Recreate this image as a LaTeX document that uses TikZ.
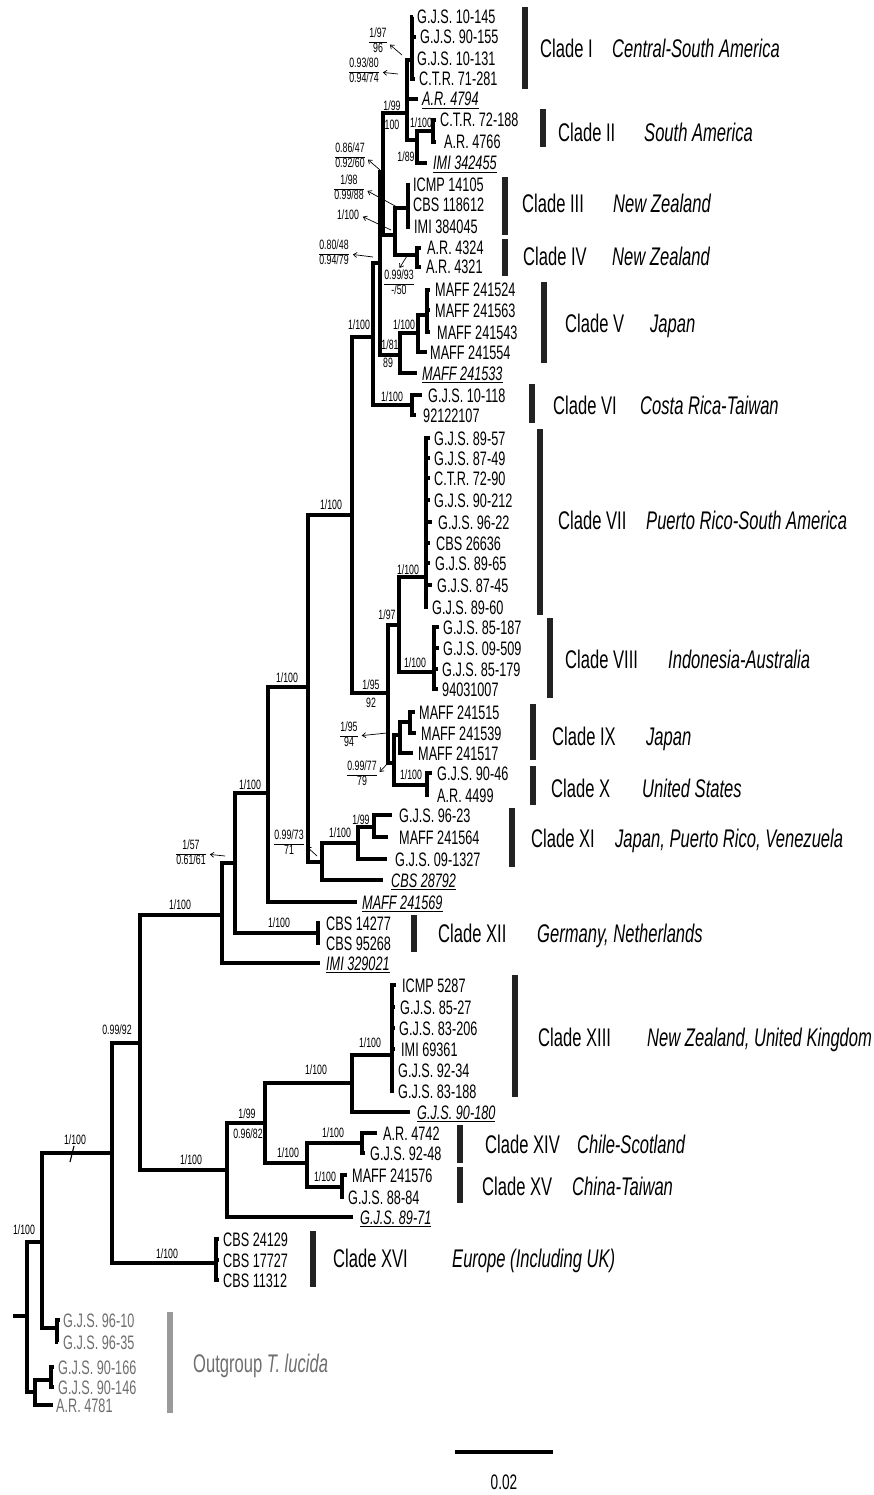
\documentclass[tikz,border=0pt]{standalone}
\usepackage{fontspec}
\setmainfont[FakeStretch=0.65]{Liberation Sans}
\usepackage{tikz}
\usetikzlibrary{arrows.meta}
\definecolor{ogtext}{HTML}{6E6E6E}
\definecolor{ogbar}{HTML}{9A9A9A}
\definecolor{barcol}{HTML}{222222}
\setlength{\arrayrulewidth}{0.9pt}
\newcommand{\leaffont}{\fontsize{19.5}{21}\selectfont}
\newcommand{\suppfont}{\fontsize{13.5}{14.5}\selectfont}
\newcommand{\cladefont}{\fontsize{25.5}{27}\selectfont}
\newcommand{\ulname}[1]{\setbox0\hbox{#1}\rlap{\rule[-2.6pt]{\wd0}{1pt}}\box0}
\newcommand{\sfr}[2]{\begin{tabular}{@{}c@{}}#1\\\hline #2\end{tabular}}

\begin{document}
\begin{tikzpicture}[x=1pt, y=-1pt,
    branch/.style={line width=3.8pt},
    leaf/.style={anchor=west, inner xsep=#1, inner ysep=0pt, text height=14pt, text depth=0pt, font=\leaffont},
    leaf/.default=4pt,
    leafu/.style={leaf=#1, font=\leaffont\itshape},
    leafu/.default=4pt,
    leafg/.style={leaf=#1, text=ogtext},
    leafg/.default=4pt,
    supp/.style={inner sep=0pt, text height=9.7pt, text depth=0pt, font=\suppfont},
    suppf/.style={inner sep=0pt, font=\suppfont},
    ptr/.style={-{Straight Barb[length=3.5pt, width=5pt]}, line width=0.7pt, shorten >=4pt},
    cbar/.style={line width=6pt, barcol},
    clade/.style={anchor=west, inner sep=0pt, text height=18.3pt, text depth=0pt, font=\cladefont},
    region/.style={clade, font=\cladefont\itshape}]
    \useasboundingbox (0,0) rectangle (874,1495);

    % internal nodes (x of vertical, y of stem)
    \coordinate (stub) at (13,1316);
    \coordinate (root) at (27,1316);
    \coordinate (og1) at (35,1392);
    \coordinate (og2) at (51,1380);
    \coordinate (og3) at (57,1328);
    \coordinate (ing) at (42,1242);
    \coordinate (a1) at (112,1153);
    \coordinate (cXVI) at (216,1263);
    \coordinate (a2) at (140,1043);
    \coordinate (b1) at (227,1170);
    \coordinate (b2) at (265,1123);
    \coordinate (b3) at (352,1083);
    \coordinate (cXIII) at (392,1055);
    \coordinate (b4) at (307,1163);
    \coordinate (cXIV) at (362,1143);
    \coordinate (cXV) at (342,1187);
    \coordinate (a3) at (222,915);
    \coordinate (a4) at (235,863);
    \coordinate (cXII) at (318,933);
    \coordinate (a5) at (268,793);
    \coordinate (a6) at (308,687);
    \coordinate (d1) at (322,862);
    \coordinate (cXI) at (358,843);
    \coordinate (cXIa) at (374,827);
    \coordinate (a7) at (352,515);
    \coordinate (e1) at (388,693);
    \coordinate (e2) at (399,625);
    \coordinate (cVII) at (426,577);
    \coordinate (cVIII) at (434,672);
    \coordinate (e3) at (394,763);
    \coordinate (cIX) at (400,735);
    \coordinate (cIXa) at (410,722);
    \coordinate (cX) at (427,785);
    \coordinate (a8) at (373,337);
    \coordinate (cVI) at (412,405);
    \coordinate (a9) at (380,263);
    \coordinate (cV) at (400,355);
    \coordinate (cVa) at (418,333);
    \coordinate (cVb) at (427,315);
    \coordinate (a10) at (383,172);
    \coordinate (f2) at (395,235);
    \coordinate (cIII) at (408,208);
    \coordinate (cIV) at (417,255);
    \coordinate (f1) at (407,113);
    \coordinate (cI) at (412,60);
    \coordinate (f3) at (417,140);
    \coordinate (cII) at (433,131);

    % leaves
    \node[leaf] (gjs10145) at (413,17) {G.J.S. 10-145};
    \node[leaf] (gjs90155) at (416,37) {G.J.S. 90-155};
    \node[leaf] (gjs10131) at (413,59) {G.J.S. 10-131};
    \node[leaf] (ctr71281) at (415,79) {C.T.R. 71-281};
    \node[leafu] (ar4794) at (418,99) {\ulname{A.R. 4794}};
    \node[leaf] (ctr72188) at (436,120) {C.T.R. 72-188};
    \node[leaf=8pt] (ar4766) at (436,142) {A.R. 4766};
    \node[leafu=6pt] (imi342455) at (427,163) {\ulname{IMI 342455}};
    \node[leaf=3pt] (icmp14105) at (410,185) {ICMP 14105};
    \node[leaf=3pt] (cbs118612) at (410,205) {CBS 118612};
    \node[leaf] (imi384045) at (410,227) {IMI 384045};
    \node[leaf=6pt] (ar4324) at (421,248) {A.R. 4324};
    \node[leaf=5pt] (ar4321) at (421,267) {A.R. 4321};
    \node[leaf=5pt] (maff241524) at (430,290) {MAFF 241524};
    \node[leaf=5pt] (maff241563) at (430,310) {MAFF 241563};
    \node[leaf=7pt] (maff241543) at (430,332) {MAFF 241543};
    \node[leaf=3pt] (maff241554) at (427,352) {MAFF 241554};
    \node[leafu=5pt] (maff241533) at (417,373) {\ulname{MAFF 241533}};
    \node[leaf=6pt] (gjs10118) at (422,395) {G.J.S. 10-118};
    \node[leaf=7pt] (n92122107) at (416,415) {92122107};
    \node[leaf] (gjs8957) at (430,438) {G.J.S. 89-57};
    \node[leaf] (gjs8749) at (430,458) {G.J.S. 87-49};
    \node[leaf] (ctr7290) at (430,478) {C.T.R. 72-90};
    \node[leaf] (gjs90212) at (430,500) {G.J.S. 90-212};
    \node[leaf=6pt] (gjs9622) at (432,522) {G.J.S. 96-22};
    \node[leaf=6pt] (cbs26636) at (430,543) {CBS 26636};
    \node[leaf=5pt] (gjs8965) at (430,563) {G.J.S. 89-65};
    \node[leaf=5pt] (gjs8745) at (432,585) {G.J.S. 87-45};
    \node[leaf] (gjs8960) at (428,607) {G.J.S. 89-60};
    \node[leaf] (gjs85187) at (439,627) {G.J.S. 85-187};
    \node[leaf] (gjs09509) at (439,648) {G.J.S. 09-509};
    \node[leaf] (gjs85179) at (438,669) {G.J.S. 85-179};
    \node[leaf] (n94031007) at (438,689) {94031007};
    \node[leaf] (maff241515) at (415,712) {MAFF 241515};
    \node[leaf=5pt] (maff241539) at (416,733) {MAFF 241539};
    \node[leaf=5pt] (maff241517) at (413,753) {MAFF 241517};
    \node[leaf=5pt] (gjs9046) at (432,773) {G.J.S. 90-46};
    \node[leaf=8pt] (ar4499) at (429,795) {A.R. 4499};
    \node[leaf=7pt] (gjs9623) at (392,815) {G.J.S. 96-23};
    \node[leaf=11pt] (maff241564) at (388,837) {MAFF 241564};
    \node[leaf=8pt] (gjs091327) at (387,859) {G.J.S. 09-1327};
    \node[leafu=8pt] (cbs28792) at (383,880) {\ulname{CBS 28792}};
    \node[leafu=5pt] (maff241569) at (357,902) {\ulname{MAFF 241569}};
    \node[leaf=6pt] (cbs14277) at (320,923) {CBS 14277};
    \node[leaf=6pt] (cbs95268) at (320,943) {CBS 95268};
    \node[leafu=6pt] (imi329021) at (320,963) {\ulname{IMI 329021}};
    \node[leaf=6pt] (icmp5287) at (396,985) {ICMP 5287};
    \node[leaf=5pt] (gjs8527) at (395,1007) {G.J.S. 85-27};
    \node[leaf] (gjs83206) at (395,1028) {G.J.S. 83-206};
    \node[leaf=6pt] (imi69361) at (395,1049) {IMI 69361};
    \node[leaf] (gjs9234) at (394,1070) {G.J.S. 92-34};
    \node[leaf] (gjs83188) at (394,1091) {G.J.S. 83-188};
    \node[leafu=7pt] (gjs90180) at (410,1112) {\ulname{G.J.S. 90-180}};
    \node[leaf=6pt] (ar4742) at (377,1133) {A.R. 4742};
    \node[leaf=5pt] (gjs9248) at (365,1153) {G.J.S. 92-48};
    \node[leaf=5pt] (maff241576) at (347,1175) {MAFF 241576};
    \node[leaf] (gjs8884) at (344,1197) {G.J.S. 88-84};
    \node[leafu=7pt] (gjs8971) at (353,1217) {\ulname{G.J.S. 89-71}};
    \node[leaf] (cbs24129) at (219,1239) {CBS 24129};
    \node[leaf] (cbs17727) at (219,1260) {CBS 17727};
    \node[leaf] (cbs11312) at (219,1280) {CBS 11312};
    \node[leafg=3pt] (gjs9610) at (60,1320) {G.J.S. 96-10};
    \node[leafg=5pt] (gjs9635) at (58,1342) {G.J.S. 96-35};
    \node[leafg] (gjs90166) at (54,1367) {G.J.S. 90-166};
    \node[leafg] (gjs90146) at (54,1387) {G.J.S. 90-146};
    \node[leafg=3pt] (ar4781) at (53,1405) {A.R. 4781};

    % branches
    \draw[branch] (stub) -- (root);
    \draw[branch] (root) |- (ing) (root) |- (og1);
    \draw[branch] (og1) |- (og2) (og1) |- (ar4781.west);
    \draw[branch] (og2) |- (gjs90166.west) (og2) |- (gjs90146.west);
    \draw[branch] (ing) |- (a1) (ing) |- (og3);
    \draw[branch] (og3) |- (gjs9610.west) (og3) |- (gjs9635.west);
    \draw[branch] (a1) |- (a2) (a1) |- (cXVI);
    \draw[branch] (cXVI) |- (cbs24129.west) (cXVI) |- (cbs17727.west) (cXVI) |- (cbs11312.west);
    \draw[branch] (a2) |- (a3) (a2) |- (b1);
    \draw[branch] (b1) |- (b2) (b1) |- (gjs8971.west);
    \draw[branch] (b2) |- (b3) (b2) |- (b4);
    \draw[branch] (b3) |- (cXIII) (b3) |- (gjs90180.west);
    \draw[branch] (cXIII) |- (icmp5287.west) (cXIII) |- (gjs8527.west) (cXIII) |- (gjs83206.west)
        (cXIII) |- (imi69361.west) (cXIII) |- (gjs9234.west) (cXIII) |- (gjs83188.west);
    \draw[branch] (b4) |- (cXIV) (b4) |- (cXV);
    \draw[branch] (cXIV) |- (ar4742.west) (cXIV) |- (gjs9248.west);
    \draw[branch] (cXV) |- (maff241576.west) (cXV) |- (gjs8884.west);
    \draw[branch] (a3) |- (a4) (a3) |- (imi329021.west);
    \draw[branch] (a4) |- (a5) (a4) |- (cXII);
    \draw[branch] (cXII) |- (cbs14277.west) (cXII) |- (cbs95268.west);
    \draw[branch] (a5) |- (a6) (a5) |- (maff241569.west);
    \draw[branch] (a6) |- (a7) (a6) |- (d1);
    \draw[branch] (d1) |- (cXI) (d1) |- (cbs28792.west);
    \draw[branch] (cXI) |- (cXIa) (cXI) |- (gjs091327.west);
    \draw[branch] (cXIa) |- (gjs9623.west) (cXIa) |- (maff241564.west);
    \draw[branch] (a7) |- (a8) (a7) |- (e1);
    \draw[branch] (e1) |- (e2) (e1) |- (e3);
    \draw[branch] (e2) |- (cVII) (e2) |- (cVIII);
    \draw[branch] (cVII) |- (gjs8957.west) (cVII) |- (gjs8749.west) (cVII) |- (ctr7290.west)
        (cVII) |- (gjs90212.west) (cVII) |- (gjs9622.west) (cVII) |- (cbs26636.west)
        (cVII) |- (gjs8965.west) (cVII) |- (gjs8745.west) (cVII) |- (gjs8960.west);
    \draw[branch] (cVIII) |- (gjs85187.west) (cVIII) |- (gjs09509.west) (cVIII) |- (gjs85179.west)
        (cVIII) |- (n94031007.west);
    \draw[branch] (e3) |- (cIX) (e3) |- (cX);
    \draw[branch] (cIX) |- (cIXa) (cIX) |- (maff241517.west);
    \draw[branch] (cIXa) |- (maff241515.west) (cIXa) |- (maff241539.west);
    \draw[branch] (cX) |- (gjs9046.west) (cX) |- (ar4499.west);
    \draw[branch] (a8) |- (a9) (a8) |- (cVI);
    \draw[branch] (cVI) |- (gjs10118.west) (cVI) |- (n92122107.west);
    \draw[branch] (a9) |- (a10) (a9) |- (cV);
    \draw[branch] (cV) |- (cVa) (cV) |- (maff241533.west);
    \draw[branch] (cVa) |- (cVb) (cVa) |- (maff241554.west);
    \draw[branch] (cVb) |- (maff241524.west) (cVb) |- (maff241563.west) (cVb) |- (maff241543.west);
    \draw[branch] (a10) |- (f1) (a10) |- (f2);
    \draw[branch] (f2) |- (cIII) (f2) |- (cIV);
    \draw[branch] (cIII) |- (icmp14105.west) (cIII) |- (cbs118612.west) (cIII) |- (imi384045.west);
    \draw[branch] (cIV) |- (ar4324.west) (cIV) |- (ar4321.west);
    \draw[branch] (f1) |- (cI) (f1) |- (ar4794.west) (f1) |- (f3);
    \draw[branch] (cI) |- (gjs10145.west) (cI) |- (gjs90155.west) (cI) |- (gjs10131.west)
        (cI) |- (ctr71281.west);
    \draw[branch] (f3) |- (cII) (f3) |- (imi342455.west);
    \draw[branch] (cII) |- (ctr72188.west) (cII) |- (ar4766.west);
    % long-branch mark
    \draw[line width=1.2pt] (70,1162) -- (74,1146);

    % support values
    \node[supp] (s1) at (392,106) {1/99};
    \node[supp] (s2) at (392,125) {100};
    \node[supp] (s3) at (421,123) {1/100};
    \node[supp] (s4) at (406,157) {1/89};
    \node[supp] (s5) at (348,215) {1/100};
    \node[supp] (s6) at (359,325) {1/100};
    \node[supp] (s7) at (404,325) {1/100};
    \node[supp] (s8) at (390,345) {1/81};
    \node[supp] (s9) at (388,363) {89};
    \node[supp] (s10) at (392,397) {1/100};
    \node[supp] (s11) at (331,505) {1/100};
    \node[supp] (s12) at (408,570) {1/100};
    \node[supp] (s13) at (387,615) {1/97};
    \node[supp] (s14) at (415,663) {1/100};
    \node[supp] (s15) at (287,678) {1/100};
    \node[supp] (s16) at (371,685) {1/95};
    \node[supp] (s17) at (371,703) {92};
    \node[supp] (s18) at (411,775) {1/100};
    \node[supp] (s19) at (250,785) {1/100};
    \node[supp] (s20) at (361,820) {1/99};
    \node[supp] (s21) at (340,833) {1/100};
    \node[supp] (s22) at (180,905) {1/100};
    \node[supp] (s23) at (279,923) {1/100};
    \node[supp] (s24) at (117,1030) {0.99/92};
    \node[supp] (s25) at (370,1043) {1/100};
    \node[supp] (s26) at (316,1070) {1/100};
    \node[supp] (s27) at (247,1114) {1/99};
    \node[supp] (s28) at (248,1134) {0.96/82};
    \node[supp] (s29) at (333,1133) {1/100};
    \node[supp] (s30) at (288,1153) {1/100};
    \node[supp] (s31) at (191,1160) {1/100};
    \node[supp] (s32) at (325,1177) {1/100};
    \node[supp] (s33) at (75,1140) {1/100};
    \node[supp] (s34) at (167,1254) {1/100};
    \node[supp] (s35) at (24,1230) {1/100};

    % stacked support values with pointers
    \node[suppf] (k1) at (378,42) {\sfr{1/97}{96}};
    \node[suppf] (k2) at (364,72) {\sfr{0.93/80}{0.94/74}};
    \node[suppf] (k3) at (350,157) {\sfr{0.86/47}{0.92/60}};
    \node[suppf] (k4) at (349,189) {\sfr{1/98}{0.99/88}};
    \node[suppf] (k5) at (334,254) {\sfr{0.80/48}{0.94/79}};
    \node[suppf] (k6) at (399,284) {\sfr{0.99/93}{-/50}};
    \node[suppf] (k7) at (349,736) {\sfr{1/95}{94}};
    \node[suppf] (k8) at (362,775) {\sfr{0.99/77}{79}};
    \node[suppf] (k9) at (191,854) {\sfr{1/57}{0.61/61}};
    \node[suppf] (k10) at (289,844) {\sfr{0.99/73}{71}};
    \coordinate (q1) at (402,55);
    \coordinate (q2) at (398,74);
    \coordinate (q3) at (380,170);
    \coordinate (q4) at (397,207);
    \coordinate (q5) at (391,230);
    \coordinate (q6) at (373,257);
    \coordinate (q7) at (407,256);
    \coordinate (q8) at (387,733);
    \coordinate (q9) at (388,763);
    \coordinate (q10) at (225,856);
    \coordinate (q11) at (317,856);
    \draw[ptr] (q1) -- (k1.east);
    \draw[ptr] (q2) -- (k2.east);
    \draw[ptr] (q3) -- (k3.east);
    \draw[ptr] (q4) -- (k4.east);
    \draw[ptr] (q5) -- (s5.east);
    \draw[ptr] (q6) -- (k5.east);
    \draw[ptr, shorten >=1pt] (q7) -- (k6.north);
    \draw[ptr] (q8) -- (k7.east);
    \draw[ptr] (q9) -- (k8.east);
    \draw[ptr] (q10) -- (k9.east);
    \draw[ptr] (q11) -- (k10.east);

    % clade bars and names
    \draw[cbar] (525,7) -- (525,89);
    \node[clade] (cladeI) at (540,48) {Clade I};
    \node[region] (regI) at (612,48) {Central-South America};
    \draw[cbar] (543,109) -- (543,147);
    \node[clade] (cladeII) at (558,132) {Clade II};
    \node[region] (regII) at (644,132) {South America};
    \draw[cbar] (505,177) -- (505,235);
    \node[clade] (cladeIII) at (522,203) {Clade III};
    \node[region] (regIII) at (613,203) {New Zealand};
    \draw[cbar] (505,239) -- (505,276);
    \node[clade] (cladeIV) at (523,256) {Clade IV};
    \node[region] (regIV) at (612,256) {New Zealand};
    \draw[cbar] (544,282) -- (544,363);
    \node[clade] (cladeV) at (565,323) {Clade V};
    \node[region] (regV) at (650,323) {Japan};
    \draw[cbar] (532,384) -- (532,423);
    \node[clade] (cladeVI) at (553,405) {Clade VI};
    \node[region] (regVI) at (640,405) {Costa Rica-Taiwan};
    \draw[cbar] (540,429) -- (540,615);
    \node[clade] (cladeVII) at (558,520) {Clade VII};
    \node[region] (regVII) at (646,520) {Puerto Rico-South America};
    \draw[cbar] (550,618) -- (550,698);
    \node[clade] (cladeVIII) at (565,659) {Clade VIII};
    \node[region] (regVIII) at (668,659) {Indonesia-Australia};
    \draw[cbar] (533,704) -- (533,760);
    \node[clade] (cladeIX) at (552,736) {Clade IX};
    \node[region] (regIX) at (646,736) {Japan};
    \draw[cbar] (533,766) -- (533,805);
    \node[clade] (cladeX) at (551,788) {Clade X};
    \node[region] (regX) at (642,788) {United States};
    \draw[cbar] (512,808) -- (512,867);
    \node[clade] (cladeXI) at (531,838) {Clade XI};
    \node[region] (regXI) at (615,838) {Japan, Puerto Rico, Venezuela};
    \draw[cbar] (414,915) -- (414,952);
    \node[clade] (cladeXII) at (438,933) {Clade XII};
    \node[region] (regXII) at (537,933) {Germany, Netherlands};
    \draw[cbar] (515,975) -- (515,1097);
    \node[clade] (cladeXIII) at (538,1037) {Clade XIII};
    \node[region] (regXIII) at (647,1037) {New Zealand, United Kingdom};
    \draw[cbar] (460,1125) -- (460,1163);
    \node[clade] (cladeXIV) at (485,1144) {Clade XIV};
    \node[region] (regXIV) at (577,1144) {Chile-Scotland};
    \draw[cbar] (460,1167) -- (460,1203);
    \node[clade] (cladeXV) at (482,1186) {Clade XV};
    \node[region] (regXV) at (572,1186) {China-Taiwan};
    \draw[cbar] (313,1231) -- (313,1287);
    \node[clade] (cladeXVI) at (333,1258) {Clade XVI};
    \node[region] (regXVI) at (452,1258) {Europe (Including UK)};
    \draw[cbar, ogbar] (170,1312) -- (170,1413);
    \node[clade, text=ogtext] (outgroup) at (193,1363) {Outgroup \textit{T. lucida}};

    % scale bar
    \draw[line width=4pt] (455,1452) -- (553,1452);
    \node[font=\fontsize{21}{22}\selectfont, inner sep=0pt] (scale) at (504,1482) {0.02};
\end{tikzpicture}
\end{document}
